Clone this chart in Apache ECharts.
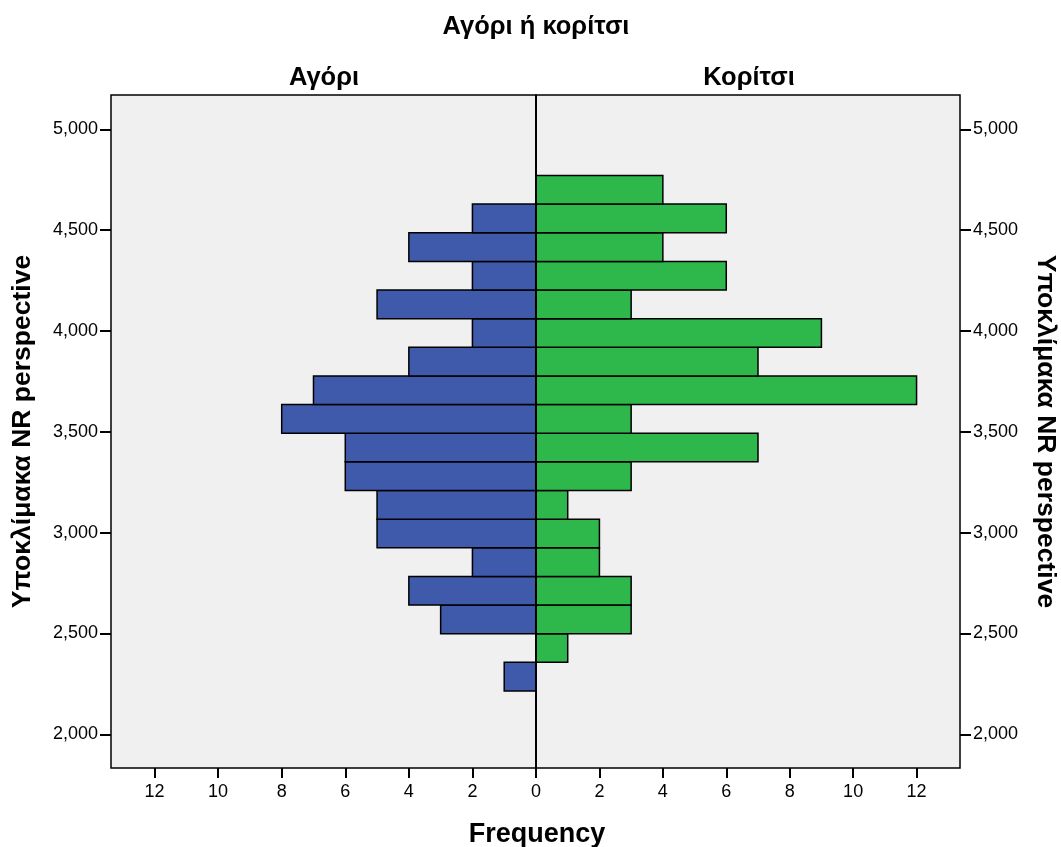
<!DOCTYPE html>
<html>
<head>
<meta charset="utf-8">
<script src="https://cdn.jsdelivr.net/npm/echarts@6/dist/echarts.min.js"></script>
<style>
  html, body { margin: 0; padding: 0; background: #fff; }
  #chart { width: 1061px; height: 847px; }
</style>
</head>
<body>
<div id="chart"></div>
<script>
// bin edges of the histogram (bottom -> top)
var binEdges = [2.215, 2.357, 2.499, 2.641, 2.783, 2.925, 3.067, 3.209, 3.351,
  3.493, 3.635, 3.777, 3.919, 4.061, 4.203, 4.345, 4.487, 4.629, 4.771];
// counts per bin, bottom -> top
var boyCounts = [1, 0, 3, 4, 2, 5, 5, 6, 6, 8, 7, 4, 2, 5, 2, 4, 2, 0];
var girlCounts = [0, 1, 3, 3, 2, 2, 1, 3, 7, 3, 12, 7, 9, 3, 6, 4, 6, 4];
var freqTicks = [0, 2, 4, 6, 8, 10, 12];
var leftFreqLabels = [2, 4, 6, 8, 10, 12];
var scaleTicks = [2, 2.5, 3, 3.5, 4, 4.5, 5];

var FONT = '"Liberation Sans", Arial, sans-serif';

function toRows(counts) {
  var rows = [];
  for (var i = 0; i < counts.length; i++) {
    if (counts[i] > 0) rows.push([counts[i], binEdges[i], binEdges[i + 1]]);
  }
  return rows;
}

function barRender(color) {
  return function (params, api) {
    var a = api.coord([0, api.value(1)]);
    var b = api.coord([api.value(0), api.value(2)]);
    return {
      type: 'rect',
      shape: {
        x: Math.min(a[0], b[0]),
        y: b[1],
        width: Math.abs(b[0] - a[0]),
        height: a[1] - b[1]
      },
      style: { fill: color, stroke: '#000', lineWidth: 1.5 }
    };
  };
}

function xAxisOpt(idx, inverse, labels) {
  return {
    type: 'value', gridIndex: idx, inverse: inverse,
    min: 0, max: 13.37,
    axisLine: { show: false, onZero: false },
    splitLine: { show: false },
    axisTick: { show: true, inside: false, length: 10, customValues: freqTicks,
      lineStyle: { color: '#000', width: 2 } },
    axisLabel: { customValues: labels, color: '#000', fontSize: 18, fontFamily: FONT, margin: 15 }
  };
}

function yAxisOpt(idx, pos) {
  return {
    type: 'value', gridIndex: idx, position: pos,
    min: 1.833, max: 5.17,
    name: 'Υποκλίμακα NR perspective',
    nameLocation: 'middle',
    nameRotate: pos === 'left' ? 90 : -90,
    nameGap: pos === 'left' ? 75 : 72,
    nameTextStyle: { fontSize: 26.5, fontWeight: 'bold', color: '#000', fontFamily: FONT },
    axisLine: { show: false, onZero: false },
    splitLine: { show: false },
    axisTick: { show: true, inside: false, length: 11, customValues: scaleTicks,
      lineStyle: { color: '#000', width: 2 } },
    axisLabel: {
      customValues: scaleTicks, color: '#000', fontSize: 18, fontFamily: FONT, margin: 13,
      formatter: function (v) { return v.toFixed(3).replace('.', ','); }
    }
  };
}

var chart = echarts.init(document.getElementById('chart'));
chart.setOption({
  animation: false,
  backgroundColor: '#fff',
  title: [
    { text: 'Αγόρι ή κορίτσι', left: 531, top: 9, textAlign: 'center',
      textStyle: { fontSize: 25.5, fontWeight: 'bold', color: '#000', fontFamily: FONT } },
    { text: 'Αγόρι', left: 319, top: 60, textAlign: 'center',
      textStyle: { fontSize: 25.5, fontWeight: 'bold', color: '#000', fontFamily: FONT } },
    { text: 'Κορίτσι', left: 744, top: 60, textAlign: 'center',
      textStyle: { fontSize: 25.5, fontWeight: 'bold', color: '#000', fontFamily: FONT } },
    { text: 'Frequency', left: 532, top: 816, textAlign: 'center',
      textStyle: { fontSize: 27, fontWeight: 'bold', color: '#000', fontFamily: FONT } }
  ],
  grid: [
    { left: 111, top: 95, width: 425, height: 673, show: true, outerBoundsMode: 'none',
      backgroundColor: '#F0F0F0', borderColor: '#000', borderWidth: 1.5 },
    { left: 536, top: 95, width: 424, height: 673, show: true, outerBoundsMode: 'none',
      backgroundColor: '#F0F0F0', borderColor: '#000', borderWidth: 1.5 }
  ],
  xAxis: [xAxisOpt(0, true, leftFreqLabels), xAxisOpt(1, false, freqTicks)],
  yAxis: [yAxisOpt(0, 'left'), yAxisOpt(1, 'right')],
  series: [
    { name: 'Αγόρι', type: 'custom', xAxisIndex: 0, yAxisIndex: 0,
      renderItem: barRender('#3F59AB'), encode: { x: 0, y: [1, 2] },
      data: toRows(boyCounts) },
    { name: 'Κορίτσι', type: 'custom', xAxisIndex: 1, yAxisIndex: 1,
      renderItem: barRender('#2EB84B'), encode: { x: 0, y: [1, 2] },
      data: toRows(girlCounts) }
  ],
  graphic: [
    { type: 'line', z: 100, shape: { x1: 536, y1: 95, x2: 536, y2: 768 },
      style: { stroke: '#000', lineWidth: 2 } }
  ]
});
</script>
</body>
</html>
